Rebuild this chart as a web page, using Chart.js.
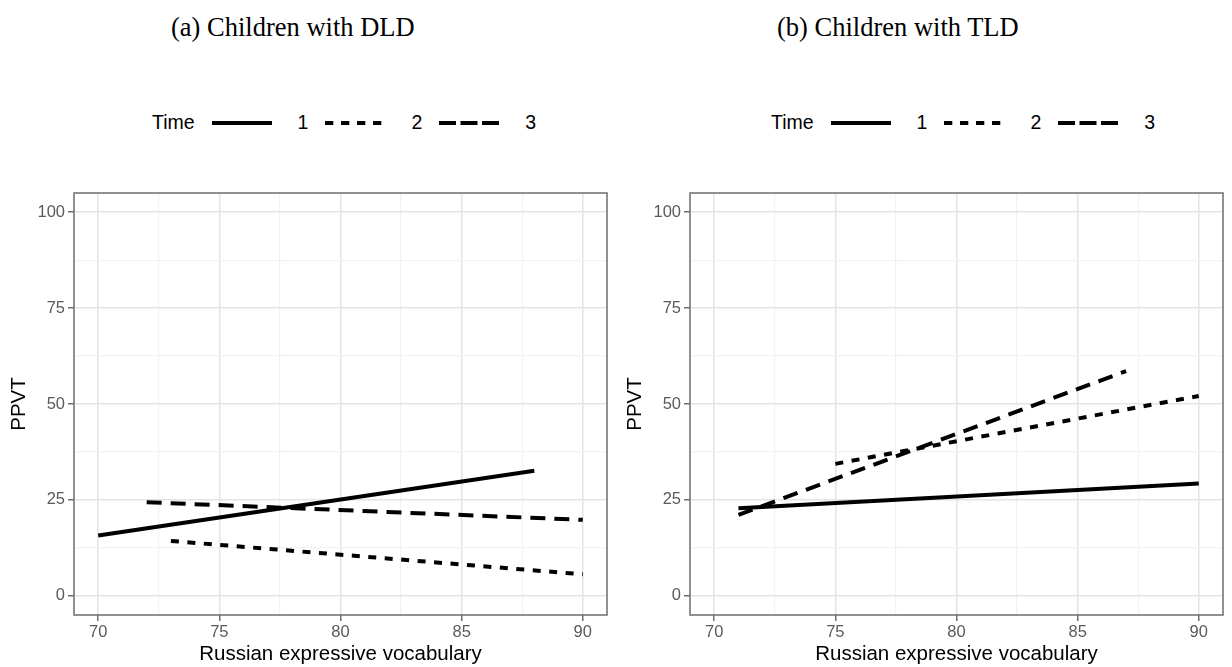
<!DOCTYPE html>
<html>
<head>
<meta charset="utf-8">
<script src="https://cdn.jsdelivr.net/npm/chart.js@4.4.1/dist/chart.umd.min.js"></script>
<style>
  html, body { margin: 0; padding: 0; background: #fff; width: 1232px; height: 667px; overflow: hidden; }
  .panel { position: absolute; top: 0; width: 616px; height: 667px; }
  .panel canvas { display: block; }
  .ttl { position: absolute; top: 11px; font-family: 'Liberation Serif', 'Times New Roman', serif; font-size: 26.5px; line-height: 32px; color: #000; white-space: nowrap; }
  .leg { position: absolute; top: 110px; height: 25px; display: flex; align-items: center; font-family: 'Liberation Sans', Arial, sans-serif; font-size: 19.5px; color: #000; white-space: nowrap; }
  .leg svg { margin-left: 17px; display: block; }
  .leg .num { margin-left: 26px; }
</style>
</head>
<body>
<div class="ttl" style="left:171px">(a) Children with DLD</div>
<div class="ttl" style="left:777px">(b) Children with TLD</div>
<div class="leg" id="legA" style="left:152px"></div>
<div class="leg" id="legB" style="left:771px"></div>
<div class="panel" style="left:0"><canvas id="dld" width="616" height="667"></canvas></div>
<div class="panel" style="left:616px"><canvas id="tld" width="616" height="667"></canvas></div>
<script>
// data (regression lines: start and end points)
const timeLabels = ['1', '2', '3'];
const legendTitle = 'Time';

const dldXStart = [70, 73, 72];
const dldXEnd   = [88, 90, 90];
const dldYStart = [15.7, 14.3, 24.4];
const dldYEnd   = [32.6, 5.6, 19.8];

const tldXStart = [71, 75, 71];
const tldXEnd   = [90, 90, 87];
const tldYStart = [22.8, 34.4, 21.1];
const tldYEnd   = [29.3, 52.1, 58.6];

const xTickLabels = [70, 75, 80, 85, 90];
const yTickLabels = [0, 25, 50, 75, 100];
const xGridVals = [70, 72.5, 75, 77.5, 80, 82.5, 85, 87.5, 90];
const yGridVals = [0, 12.5, 25, 37.5, 50, 62.5, 75, 87.5, 100];

const xTitle = 'Russian expressive vocabulary';
const yTitle = 'PPVT';

// line styles per Time
const lineDash = [[], [8, 8.5], [15, 9]];
const keyDash = ['none', '8.3 7.7', '17 4.5'];

const sans = "'Liberation Sans', Arial, sans-serif";
const tickGray = '#5a5a5a';
const borderGray = '#6e6e6e';

const panelBorder = {
  id: 'panelBorder',
  afterDatasetsDraw(chart) {
    const { ctx, chartArea: a } = chart;
    ctx.save();
    ctx.strokeStyle = borderGray;
    ctx.lineWidth = 1.5;
    ctx.strokeRect(a.left, a.top, a.right - a.left, a.bottom - a.top);
    ctx.restore();
  }
};

function gridOpts(labels) {
  return {
    color: c => labels.includes(c.tick.value) ? '#e4e4e4' : '#f2f2f2',
    lineWidth: c => labels.includes(c.tick.value) ? 1.5 : 1.2,
    tickColor: c => labels.includes(c.tick.value) ? borderGray : 'rgba(0,0,0,0)',
    tickLength: 6,
    tickWidth: 1.5
  };
}

function makeChart(id, xs0, xs1, ys0, ys1) {
  const datasets = timeLabels.map((t, i) => ({
    label: t,
    data: [{ x: xs0[i], y: ys0[i] }, { x: xs1[i], y: ys1[i] }],
    borderColor: '#000',
    borderWidth: 4,
    borderDash: lineDash[i],
    borderCapStyle: 'butt',
    pointRadius: 0,
    fill: false,
    tension: 0
  }));

  return new Chart(document.getElementById(id), {
    type: 'line',
    data: { datasets: datasets },
    plugins: [panelBorder],
    options: {
      responsive: false,
      animation: false,
      devicePixelRatio: 1,
      layout: { padding: { top: 193, right: 9, bottom: 0, left: 0 } },
      plugins: { legend: { display: false }, tooltip: { enabled: false } },
      scales: {
        x: {
          type: 'linear',
          min: 69,
          max: 91,
          afterBuildTicks: s => { s.ticks = xGridVals.map(v => ({ value: v })); },
          afterFit: s => { s.height = 52; },
          ticks: {
            autoSkip: false,
            maxRotation: 0,
            padding: 2,
            color: tickGray,
            font: { family: sans, size: 16.5 },
            callback: v => xTickLabels.includes(v) ? String(v) : ''
          },
          grid: gridOpts(xTickLabels),
          border: { display: false },
          title: {
            display: true,
            text: xTitle,
            color: '#000',
            font: { family: sans, size: 20.5 },
            padding: { top: 0, bottom: 0 }
          }
        },
        y: {
          type: 'linear',
          min: -5,
          max: 105,
          afterBuildTicks: s => { s.ticks = yGridVals.map(v => ({ value: v })); },
          afterFit: s => { s.width = 74; },
          ticks: {
            autoSkip: false,
            padding: 3,
            color: tickGray,
            font: { family: sans, size: 16.5 },
            callback: v => yTickLabels.includes(v) ? String(v) : ''
          },
          grid: gridOpts(yTickLabels),
          border: { display: false },
          title: {
            display: true,
            text: yTitle,
            color: '#000',
            font: { family: sans, size: 20.5 },
            padding: { top: 7, bottom: 0 }
          }
        }
      }
    }
  });
}

function buildLegend(id) {
  let html = '<span>' + legendTitle + '</span>';
  timeLabels.forEach((t, i) => {
    html += '<svg width="60" height="10"><line x1="0" y1="5" x2="60" y2="5" stroke="#000" stroke-width="4" stroke-dasharray="' + keyDash[i] + '"/></svg>';
    html += '<span class="num">' + t + '</span>';
  });
  document.getElementById(id).innerHTML = html;
}

buildLegend('legA');
buildLegend('legB');
makeChart('dld', dldXStart, dldXEnd, dldYStart, dldYEnd);
makeChart('tld', tldXStart, tldXEnd, tldYStart, tldYEnd);
</script>
</body>
</html>
